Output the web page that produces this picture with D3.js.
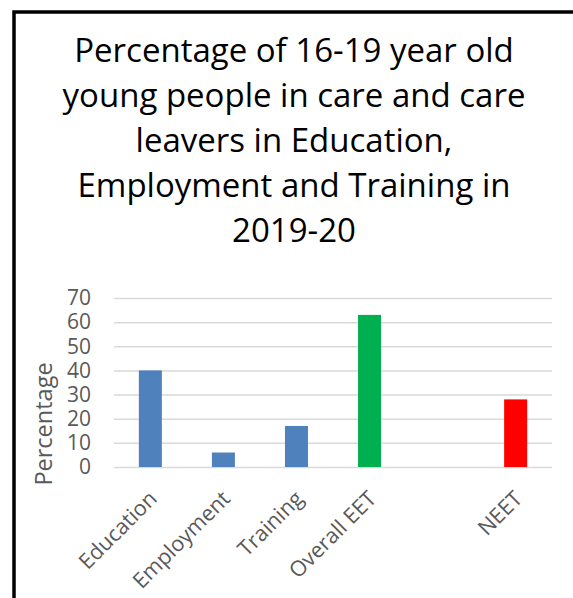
<!DOCTYPE html>
<html>
<head>
<meta charset="utf-8">
<script src="https://cdn.jsdelivr.net/npm/d3@7"></script>
<style>
  body { margin: 0; background: #fff; }
  text { font-family: "Open Sans", "Noto Sans", sans-serif; }
</style>
</head>
<body>
<svg width="573" height="598"></svg>
<script>
// chart data
const categories = ['Education', 'Employment', 'Training', 'Overall EET', '', 'NEET'];
const values = [40, 6, 17, 63, null, 28];
const barColors = ['#4f81bd', '#4f81bd', '#4f81bd', '#00b050', null, '#ff0000'];
const yTicks = [0, 10, 20, 30, 40, 50, 60, 70];
const titleLines = [
  'Percentage of 16-19 year old',
  'young people in care and care',
  'leavers in Education,',
  'Employment and Training in',
  '2019-20'
];

const svg = d3.select('svg');
const width = +svg.attr('width');
const height = +svg.attr('height');

// outer frame (runs off the right and bottom edges)
svg.append('rect')
  .attr('x', 14).attr('y', 12)
  .attr('width', width).attr('height', height)
  .attr('fill', 'none')
  .attr('stroke', '#000')
  .attr('stroke-width', 3.5);

// title
svg.append('g').selectAll('text').data(titleLines)
  .enter().append('text')
    .attr('x', 294)
    .attr('y', (d, i) => 62 + i * 45)
    .attr('text-anchor', 'middle')
    .attr('font-size', 33)
    .attr('fill', '#000')
    .text(d => d);

const margin = { top: 298, left: 114, right: 21, bottom: 131 };
const innerWidth = width - margin.left - margin.right;
const innerHeight = height - margin.top - margin.bottom;

const data = categories.map((c, i) => ({ i, c, v: values[i], color: barColors[i] }));

const xScale = d3.scaleBand()
  .domain(data.map(d => d.i))
  .range([0, innerWidth])
  .paddingInner(0.685)
  .paddingOuter(0.34);

const yScale = d3.scaleLinear()
  .domain([0, 70])
  .range([innerHeight, 0]);

const g = svg.append('g')
  .attr('transform', `translate(${margin.left},${margin.top})`);

// gridlines + y labels
const yAxis = d3.axisLeft(yScale)
  .tickValues(yTicks)
  .tickSize(-innerWidth)
  .tickPadding(23);

const yAxisG = g.append('g').call(yAxis);
yAxisG.select('.domain').remove();
yAxisG.selectAll('.tick line')
  .attr('stroke', '#d9d9d9')
  .attr('stroke-width', 1.5);
yAxisG.selectAll('.tick text')
  .attr('font-size', 21)
  .attr('fill', '#595959');

// bars
g.selectAll('rect.bar').data(data.filter(d => d.v !== null))
  .enter().append('rect')
    .attr('class', 'bar')
    .attr('x', d => xScale(d.i))
    .attr('y', d => yScale(d.v))
    .attr('width', xScale.bandwidth())
    .attr('height', d => innerHeight - yScale(d.v))
    .attr('fill', d => d.color);

// x labels, rotated
g.append('g').selectAll('text').data(data)
  .enter().append('text')
    .attr('transform', d => {
      const cx = xScale(d.i) + xScale.bandwidth() / 2 + 8;
      return `translate(${cx},${innerHeight + 33}) rotate(-45)`;
    })
    .attr('text-anchor', 'end')
    .attr('font-size', 21.5)
    .attr('fill', '#595959')
    .text(d => d.c);

// y title
svg.append('text')
  .attr('transform', 'translate(52,424) rotate(-90)')
  .attr('text-anchor', 'middle')
  .attr('font-size', 23.5)
  .attr('fill', '#595959')
  .text('Percentage');
</script>
</body>
</html>
